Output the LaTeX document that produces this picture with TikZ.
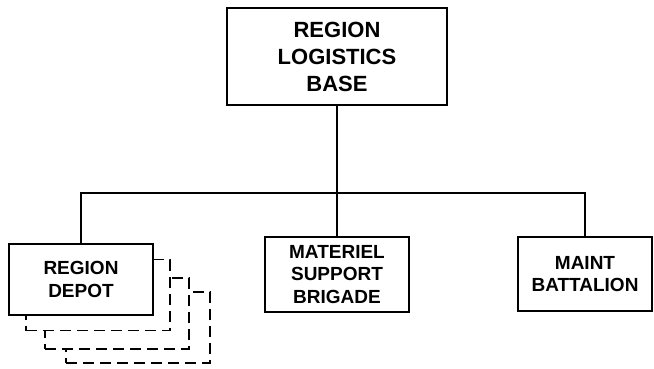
\documentclass[tikz,border=0pt]{standalone}
\usepackage{fontspec}
\setmainfont{Liberation Sans}
\usetikzlibrary{positioning,calc}

\begin{document}
\begin{tikzpicture}[
  x=1pt, y=-1pt,
  unit/.style={draw, line width=1.5pt, fill=white, align=center, inner sep=2pt},
  hq/.style={unit, minimum width=220pt, minimum height=97pt,
             font=\fontsize{22}{27}\selectfont\bfseries},
  sub/.style={unit, minimum width=144pt, minimum height=74pt,
              font=\fontsize{19}{22.5}\selectfont\bfseries},
  shadowbox/.style={draw, line width=1.3pt, fill=white, dash pattern=on 11pt off 6pt,
                    minimum width=144pt, minimum height=71pt, inner sep=0pt},
  link/.style={line width=1.5pt},
]
\useasboundingbox (0,0) rectangle (654,368);

% ====== top ======
\node[hq] (rlb) at (337, 56.5) {REGION\\LOGISTICS\\BASE};

% ====== depot and its copies (back to front) ======
\node[shadowbox] (dep3) at (138, 327.5) {};
\node[shadowbox] (dep2) at (117, 313.5) {};
\node[shadowbox] (dep1) at (98, 295) {};
\node[sub, minimum height=71pt] (dep) at (81, 279.5) {REGION\\DEPOT};

% ====== other units ======
\node[sub, minimum height=75pt] (msb) at (337, 274.5) {MATERIEL\\SUPPORT\\BRIGADE};
\node[sub, minimum width=134pt] (mbn) at (585, 274) {MAINT\\BATTALION};

% ====== connectors ======
\coordinate (bus) at (337, 193);
\draw[link] (rlb.south) -- (msb.north);
\draw[link] (dep.north) |- (bus) -| (mbn.north);

\end{tikzpicture}
\end{document}
